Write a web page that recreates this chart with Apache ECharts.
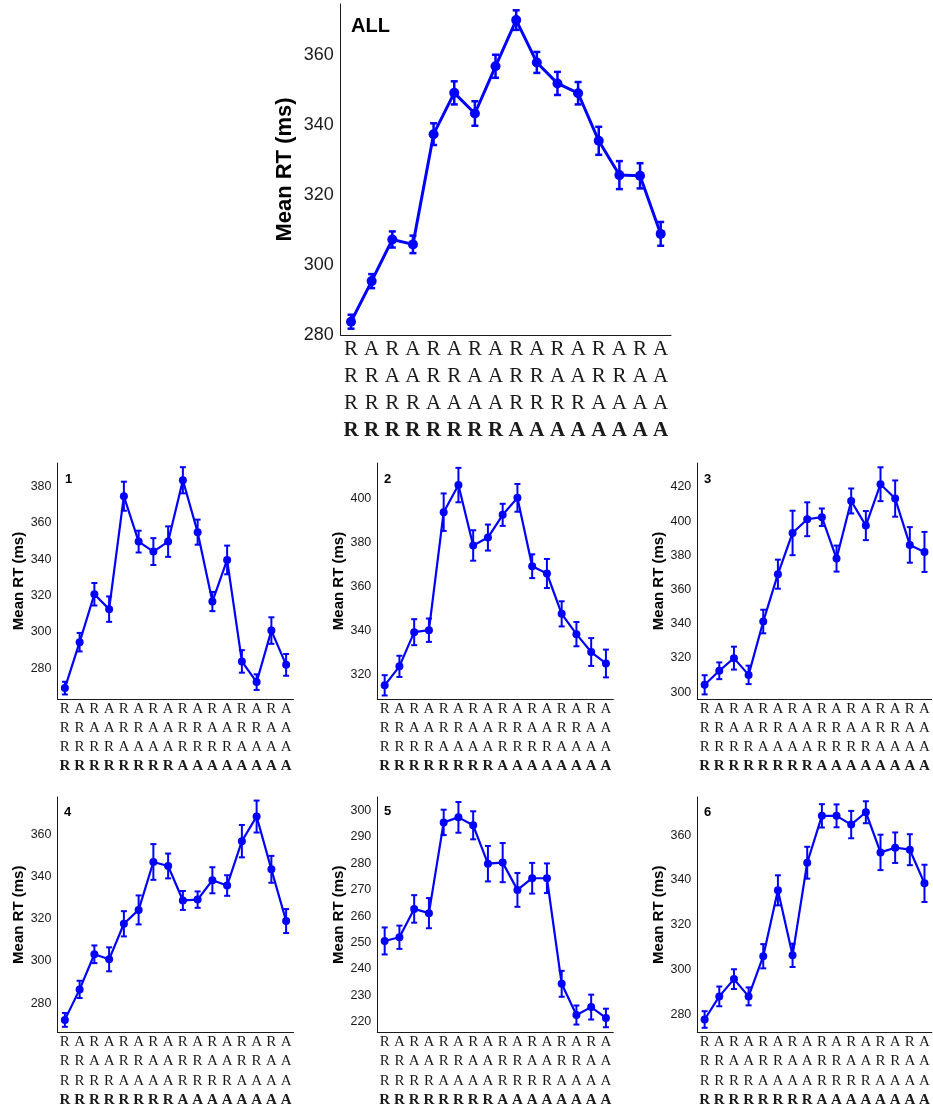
<!DOCTYPE html>
<html><head><meta charset="utf-8">
<script src="https://cdn.jsdelivr.net/npm/echarts@6/dist/echarts.min.js"></script>
<style>html,body{margin:0;padding:0;background:#fff}#c{width:933px;height:1109px}</style>
</head><body><div id="c"></div>
<script>
// x-axis label rows (trial-history sequences)
var row1 = ['R','A','R','A','R','A','R','A','R','A','R','A','R','A','R','A'];
var row2 = ['R','R','A','A','R','R','A','A','R','R','A','A','R','R','A','A'];
var row3 = ['R','R','R','R','A','A','A','A','R','R','R','R','A','A','A','A'];
var row4 = ['R','R','R','R','R','R','R','R','A','A','A','A','A','A','A','A'];
var categories = row1.map(function(_, i){ return row1[i] + row2[i] + row3[i] + row4[i]; });

var panelNames = ['ALL', '1', '2', '3', '4', '5', '6'];

var allMean = [283.8,295.4,307.3,305.9,337.4,349.2,343.3,356.8,370.0,357.9,351.9,349.1,335.5,325.7,325.5,308.9];
var allErr  = [2.0,2.0,2.3,2.5,3.1,3.3,3.5,3.3,2.8,3.0,3.3,3.2,4.0,4.0,3.6,3.4];

var p1Mean = [269.0,294.3,320.7,312.5,374.7,349.7,344.2,349.7,383.5,354.9,316.7,339.6,283.7,272.3,300.7,281.8];
var p1Err  = [3.5,5.1,6.2,7.0,8.0,6.0,7.4,8.4,7.2,6.9,5.3,7.9,6.2,4.3,7.3,6.0];

var p2Mean = [315.2,323.8,339.3,340.2,393.7,406.0,378.6,382.2,392.5,400.2,369.2,365.9,347.6,338.4,330.3,325.1];
var p2Err  = [4.6,4.8,5.9,5.3,8.5,7.8,6.9,5.9,5.0,6.3,5.4,6.6,5.7,5.5,6.3,6.3];

var p3Mean = [304.3,312.5,319.9,310.1,341.3,369.0,393.1,401.1,402.3,378.1,411.8,397.4,421.6,413.2,386.1,382.0];
var p3Err  = [5.6,4.9,6.7,5.4,6.9,8.5,13.0,9.9,5.1,7.6,7.3,8.5,9.9,10.6,10.4,11.7];

var p4Mean = [272.0,286.5,303.2,300.8,317.7,324.3,347.1,345.2,328.8,329.2,338.4,335.9,357.0,368.7,343.6,319.0];
var p4Err  = [3.3,4.1,4.2,5.7,6.0,6.9,8.5,5.9,4.5,3.9,6.2,4.9,7.7,7.6,6.4,5.7];

var p5Mean = [250.6,252.0,262.7,261.1,295.4,297.3,294.3,279.8,280.2,269.9,274.3,274.3,234.4,222.6,225.6,221.5];
var p5Err  = [5.1,4.4,5.2,5.7,4.8,5.8,5.3,6.7,7.4,6.4,5.8,5.6,4.9,3.6,4.7,3.5];

var p6Mean = [277.8,288.1,295.8,288.1,306.0,335.4,306.4,347.7,368.6,368.6,364.7,370.2,352.3,354.4,353.5,338.5];
var p6Err  = [3.7,4.4,4.4,4.0,5.4,6.7,5.2,7.1,5.2,5.1,6.1,4.9,7.9,6.8,6.9,8.3];

var yMin  = [280, 263, 309, 296, 266, 216, 272];
var yMax  = [374.6, 393, 416, 434, 378, 305, 377];
var yStep = [20, 20, 20, 20, 20, 10, 20];

var means = [allMean, p1Mean, p2Mean, p3Mean, p4Mean, p5Mean, p6Mean];
var errs  = [allErr, p1Err, p2Err, p3Err, p4Err, p5Err, p6Err];

var BLUE = '#0000ff';
var INK = '#1a1a1a';
var SANS = 'Liberation Sans, Arial, sans-serif';
var SERIF = 'Liberation Serif, Times New Roman, serif';

var layout = [
  {left: 340.7, top: 4,   width: 330.3, height: 331, big: true},
  {left: 57.5,  top: 463, width: 236,   height: 236},
  {left: 377.3, top: 463, width: 236,   height: 236},
  {left: 697.3, top: 463, width: 234.5, height: 236},
  {left: 57.5,  top: 797, width: 236,   height: 235.5},
  {left: 377.3, top: 797, width: 236,   height: 235.5},
  {left: 697.3, top: 797, width: 234.5, height: 235.5}
];

var grids = [], xAxes = [], yAxes = [], series = [], graphics = [];

layout.forEach(function(L, k){
  var big = !!L.big;
  var fs = big ? 21 : 15, lh = big ? 27 : 19.3;
  grids.push({left: L.left, top: L.top, width: L.width, height: L.height, containLabel: false});
  xAxes.push({
    type: 'category', gridIndex: k, data: categories, boundaryGap: true,
    axisLine: {show: true, lineStyle: {color: INK, width: 1}},
    axisTick: {show: false},
    splitLine: {show: false},
    axisLabel: {
      interval: 0, margin: big ? 1 : 0,
      formatter: function(v){
        return '{n|' + v[0] + '}\n{n|' + v[1] + '}\n{n|' + v[2] + '}\n{b|' + v[3] + '}';
      },
      rich: {
        n: {fontFamily: SERIF, fontSize: fs, lineHeight: lh, color: INK},
        b: {fontFamily: SERIF, fontSize: fs, lineHeight: lh, color: INK, fontWeight: 'bold'}
      }
    }
  });
  var step = yStep[k];
  yAxes.push({
    type: 'value', gridIndex: k, min: yMin[k], max: yMax[k], interval: 1,
    name: 'Mean RT (ms)', nameLocation: 'middle', nameRotate: 90,
    nameGap: big ? 45 : 31,
    nameTextStyle: {fontFamily: SANS, fontWeight: 'bold', fontSize: big ? 22 : 15, color: '#000'},
    axisLine: {show: true, lineStyle: {color: INK, width: 1}},
    axisTick: {show: false},
    splitLine: {show: false},
    axisLabel: {
      margin: big ? 7 : 6,
      fontFamily: SANS, fontSize: big ? 18 : 12.5, color: INK,
      showMinLabel: true, showMaxLabel: true,
      formatter: function(v){
        var r = Math.round(v);
        return (Math.abs(v - r) < 1e-6 && r % step === 0) ? String(r) : '';
      }
    }
  });
  var m = means[k], e = errs[k];
  series.push({
    type: 'line', xAxisIndex: k, yAxisIndex: k,
    data: m,
    symbol: 'circle', symbolSize: big ? 10 : 8,
    lineStyle: {color: BLUE, width: big ? 3 : 2.2},
    itemStyle: {color: BLUE},
    animation: false, z: 3
  });
  var capHalf = big ? 3.5 : 3, elw = big ? 2.5 : 2;
  series.push({
    type: 'custom', xAxisIndex: k, yAxisIndex: k,
    data: m.map(function(v, i){ return [i, v - e[i], v + e[i]]; }),
    encode: {x: 0, y: [1, 2]},
    renderItem: function(params, api){
      var x = api.value(0), lo = api.value(1), hi = api.value(2);
      var a = api.coord([x, lo]), b = api.coord([x, hi]);
      var st = {stroke: BLUE, lineWidth: elw};
      return {type: 'group', children: [
        {type: 'line', shape: {x1: a[0], y1: a[1], x2: b[0], y2: b[1]}, style: st},
        {type: 'line', shape: {x1: a[0]-capHalf, y1: a[1], x2: a[0]+capHalf, y2: a[1]}, style: st},
        {type: 'line', shape: {x1: b[0]-capHalf, y1: b[1], x2: b[0]+capHalf, y2: b[1]}, style: st}
      ]};
    },
    animation: false, z: 4
  });
});

var labelPos = [
  {left: 351, top: 16}, {left: 65, top: 473}, {left: 384, top: 473}, {left: 704, top: 472.5},
  {left: 64, top: 806}, {left: 384, top: 805}, {left: 704, top: 806}
];
labelPos.forEach(function(p, k){
  graphics.push({
    type: 'text', left: p.left, top: p.top,
    style: {text: panelNames[k], fontFamily: SANS, fontWeight: 'bold', fontSize: k === 0 ? 20 : 13, fill: '#000'}
  });
});

var chart = echarts.init(document.getElementById('c'), null, {renderer: 'canvas'});
chart.setOption({
  animation: false,
  backgroundColor: '#fff',
  grid: grids, xAxis: xAxes, yAxis: yAxes, series: series, graphic: graphics
});
</script>
</body></html>
